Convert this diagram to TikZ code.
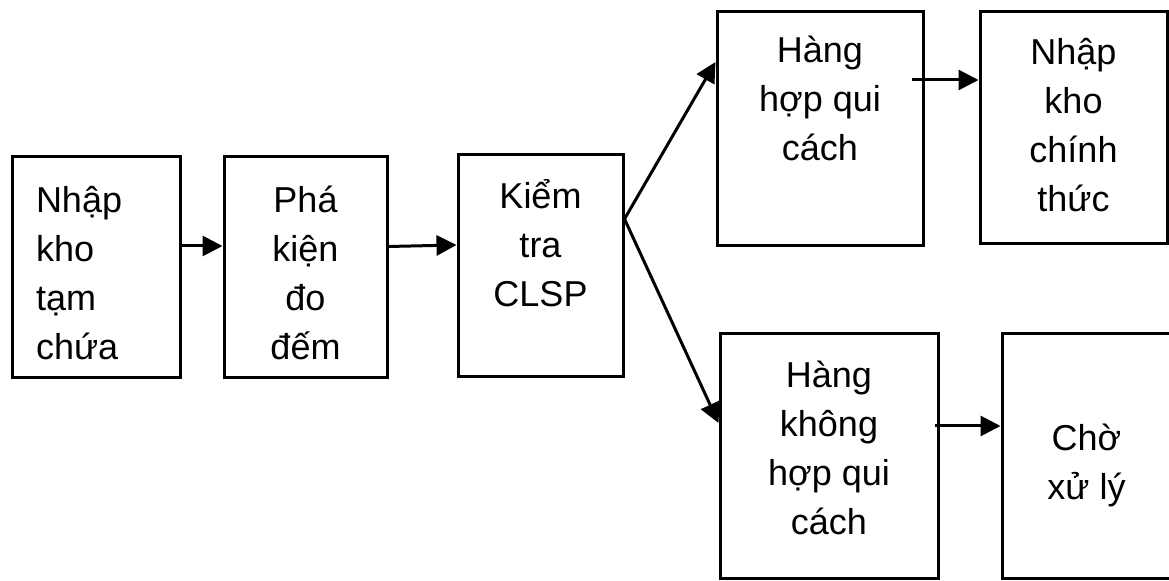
\documentclass[tikz,border=0pt]{standalone}
\usepackage{fontspec}
\setmainfont{Liberation Sans}
\usetikzlibrary{arrows.meta}

\begin{document}
\begin{tikzpicture}[
  x=0.5pt, y=-0.5pt,
  box/.style={draw, line width=1.5pt, align=center, inner sep=0pt, font=\fontsize{18}{24.5}\selectfont},
  flow/.style={line width=1.5pt, -{Triangle[length=10pt, width=10pt]}}
]
  \useasboundingbox (0,0) rectangle (1169,581);

  % nhap -> pha kien -> kiem tra
  \node[box, minimum width=84pt, minimum height=110.5pt, align=left, text width=60pt] (nhaptam) at (96,267.5) {\rule{0pt}{19pt}Nhập\\kho\\tạm\\chứa};
  \node[box, minimum width=81.5pt, minimum height=110.5pt] (phakien) at (305.5,267.5) {\rule{0pt}{19pt}Phá\\kiện\\đo\\đếm};
  \node[box, minimum width=82.5pt, minimum height=111pt] (kiemtra) at (540.5,266) {Kiểm\\tra\\CLSP\rule[-23pt]{0pt}{0pt}};

  % hang hop qui cach
  \node[box, minimum width=103pt, minimum height=117pt] (hop) at (820,129) {Hàng\\hợp qui\\cách\rule[-30.5pt]{0pt}{0pt}};
  \node[box, minimum width=93.5pt, minimum height=116pt] (nhapchinh) at (1073.5,128) {Nhập\\kho\\chính\\thức\rule[-3pt]{0pt}{0pt}};

  % hang khong hop qui cach
  \node[box, minimum width=109pt, minimum height=122.5pt] (khonghop) at (829,456.5) {Hàng\\không\\hợp qui\\cách\rule[-8.5pt]{0pt}{0pt}};
  \node[box, minimum width=84.5pt, minimum height=122.5pt] (choxuly) at (1086.5,456.5) {\rule{0pt}{21.8pt}Chờ\\xử lý};

  \draw[flow] ([yshift=10.75pt]nhaptam.east) -- ([yshift=10.75pt]phakien.west);
  \draw[flow] ([yshift=10.5pt]phakien.east) -- ([yshift=10.5pt]kiemtra.west);
  \draw[flow] ([yshift=23.5pt]kiemtra.east) -- ([yshift=33.5pt]hop.west);
  \draw[flow] ([yshift=23.5pt]kiemtra.east) -- ([yshift=16.75pt]khonghop.west);
  \draw[flow] ([xshift=-6.5pt, yshift=24.5pt]hop.east) -- ([yshift=24pt]nhapchinh.west);
  \draw[flow] ([xshift=-2.5pt, yshift=15.25pt]khonghop.east) -- ([yshift=15.25pt]choxuly.west);
\end{tikzpicture}
\end{document}
